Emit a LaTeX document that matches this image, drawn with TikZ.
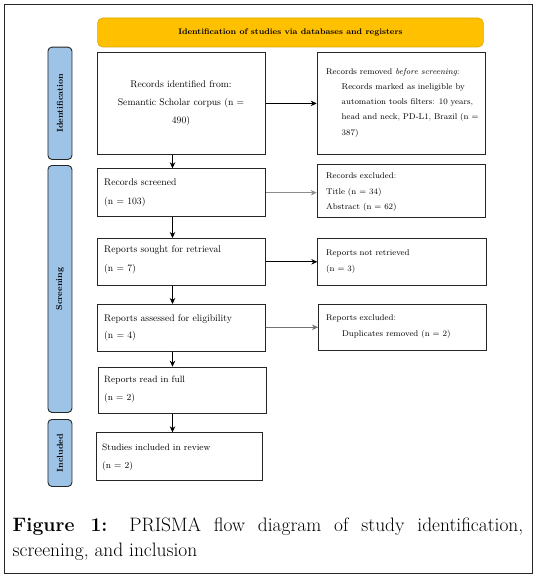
\documentclass[tikz,border=0pt]{standalone}
\usetikzlibrary{arrows.meta,positioning}
\definecolor{banner}{HTML}{FFC000}
\definecolor{bannerdraw}{HTML}{D9A400}
\definecolor{tabblue}{HTML}{9DC3E6}
\definecolor{boxline}{HTML}{262626}
\begin{document}
\begin{tikzpicture}[x=1bp,y=-1bp,
  box/.style={draw=boxline,line width=1.1pt,inner sep=0pt,anchor=north west},
  tabbox/.style={draw=boxline,fill=tabblue,line width=0.9pt,rounded corners=4bp,inner sep=0pt,anchor=north west,minimum width=24bp},
  tablabel/.style={rotate=90,font=\fontsize{8.6}{10}\selectfont\bfseries},
  ltxt/.style={anchor=base west,inner sep=0pt,font=\fontsize{9.7}{12}\selectfont},
  rtxt/.style={anchor=base west,inner sep=0pt,font=\fontsize{8.4}{10}\selectfont},
  arr/.style={-{Stealth[length=6bp,width=5.5bp]},line width=0.7pt,draw=black},
  garr/.style={-{Stealth[length=6bp,width=5.5bp]},line width=1pt,draw=black!45},
]
\useasboundingbox (0,0) rectangle (541,581);
% outer frame
\node[draw=black!85,line width=0.9pt,inner sep=0pt,anchor=north west,minimum width=527.7bp,minimum height=568.7bp] (frame) at (4.3,4.3) {};
% banner
\node[draw=bannerdraw,fill=banner,line width=0.6pt,rounded corners=5bp,inner sep=0pt,anchor=north west,minimum width=385.7bp,minimum height=29bp] (banner) at (97.3,17.7) {};
\node[font=\fontsize{8.2}{10}\selectfont\bfseries,inner sep=0pt] (bannertxt) at (banner.center) {Identification of studies via databases and registers};
% tabs
\node[tabbox,minimum height=112.3bp] (tabid) at (47.5,46.7) {};
\node[tablabel] (tabidtxt) at (tabid.center) {Identification};
\node[tabbox,minimum height=247bp] (tabscr) at (47.5,165) {};
\node[tablabel] (tabscrtxt) at (tabscr.center) {Screening};
\node[tabbox,minimum height=67bp] (tabinc) at (47.5,419) {};
\node[tablabel] (tabinctxt) at (tabinc.center) {Included};
% left boxes
\node[box,minimum width=168.3bp,minimum height=102.3bp] (ident) at (96.7,51.7) {};
\node[box,minimum width=168.3bp,minimum height=47.7bp] (screened) at (96.7,168.3) {};
\node[box,minimum width=168.3bp,minimum height=46.5bp] (sought) at (96.7,238) {};
\node[box,minimum width=168.3bp,minimum height=46.7bp] (assessed) at (96.7,304) {};
\node[box,minimum width=168.3bp,minimum height=46.3bp] (readfull) at (97.7,366.7) {};
\node[box,minimum width=166.6bp,minimum height=47.7bp] (included) at (95.7,432.3) {};
% right boxes
\node[box,minimum width=167.8bp,minimum height=102.3bp] (removed) at (316.7,51.7) {};
\node[box,minimum width=168.3bp,minimum height=52.7bp] (excluded) at (316.7,164) {};
\node[box,minimum width=168.4bp,minimum height=46.7bp] (notret) at (317.3,238.3) {};
\node[box,minimum width=168bp,minimum height=46.5bp] (repexcl) at (318,303.5) {};
% texts in left boxes
\node[anchor=base,inner sep=0pt,font=\fontsize{9.7}{12}\selectfont] (identa) at (181,87.5) {Records identified from:};
\node[anchor=base,inner sep=0pt,font=\fontsize{9.7}{12}\selectfont] (identb) at (181,105.5) {Semantic Scholar corpus (n =};
\node[anchor=base,inner sep=0pt,font=\fontsize{9.7}{12}\selectfont] (identc) at (181,124) {490)};
\node[ltxt] (scra) at (104,185) {Records screened};
\node[ltxt] (scrb) at (104,204) {(n = 103)};
\node[ltxt] (soua) at (104,252.5) {Reports sought for retrieval};
\node[ltxt] (soub) at (104,271.5) {(n = 7)};
\node[ltxt] (assa) at (104,321) {Reports assessed for eligibility};
\node[ltxt] (assb) at (104,338.5) {(n = 4)};
\node[ltxt,font=\fontsize{9.2}{12}\selectfont] (reada) at (104,382.5) {Reports read in full};
\node[ltxt,font=\fontsize{9.2}{12}\selectfont] (readb) at (104,400.5) {(n = 2)};
\node[ltxt,font=\fontsize{9.2}{12}\selectfont] (inca) at (102,450.5) {Studies included in review};
\node[ltxt,font=\fontsize{9.2}{12}\selectfont] (incb) at (102,468.5) {(n = 2)};
% texts in right boxes
\node[rtxt] (rema) at (326,74.5) {Records removed \textit{before screening}:};
\node[rtxt] (remb) at (341.5,90) {Records marked as ineligible by};
\node[rtxt] (remc) at (341.5,105) {automation tools filters: 10 years,};
\node[rtxt] (remd) at (341.5,120) {head and neck, PD-L1, Brazil (n =};
\node[rtxt] (reme) at (341.5,135.5) {387)};
\node[rtxt] (exca) at (326,178) {Records excluded:};
\node[rtxt] (excb) at (326,194) {Title (n = 34)};
\node[rtxt] (excc) at (326,209.5) {Abstract (n = 62)};
\node[rtxt] (nota) at (326,255.5) {Reports not retrieved};
\node[rtxt] (notb) at (326,271.5) {(n = 3)};
\node[rtxt] (rexa) at (326,320.5) {Reports excluded:};
\node[rtxt] (rexb) at (342,336.5) {Duplicates removed (n = 2)};
% arrows
\coordinate (ax) at (172.5,0);
\draw[arr] (ident.south -| ax) -- (screened.north -| ax);
\draw[arr] (screened.south -| ax) -- (sought.north -| ax);
\draw[arr] (sought.south -| ax) -- (assessed.north -| ax);
\draw[arr] (assessed.south -| ax) -- (readfull.north -| ax);
\draw[arr] (readfull.south -| ax) -- (included.north -| ax);
\draw[arr] (ident.east) -- (removed.west);
\draw[garr] (screened.east) -- (screened.east -| excluded.west);
\draw[arr] (sought.east) -- (sought.east -| notret.west);
\draw[arr,draw=black!55,line width=0.6pt] (assessed.east |- repexcl.west) -- (repexcl.west);
% caption
\node[anchor=north west,inner sep=0pt] (caption) at (12.5,517.5) {\parbox{510.5bp}{\fontsize{19.5}{25}\selectfont\textbf{Figure 1:} PRISMA flow diagram of study identification,\linebreak screening, and inclusion}};
\end{tikzpicture}
\end{document}
